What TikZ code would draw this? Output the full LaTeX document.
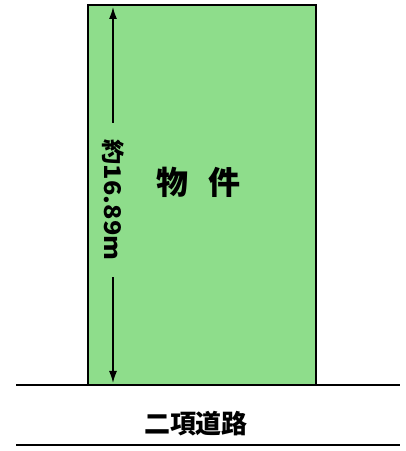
\documentclass[tikz,border=0pt]{standalone}
\usepackage{fontspec}
\newfontfamily\jpfont{Noto Sans CJK JP}
\usepackage{tikz}
\usetikzlibrary{positioning}
\usetikzlibrary{arrows.meta}
\definecolor{lotgreen}{RGB}{142,221,139}

\begin{document}
\begin{tikzpicture}[x=1pt,y=1pt,>={Latex[length=12pt,width=8pt]},font=\jpfont]
				\useasboundingbox (0,0) rectangle (406,451);
				\node[draw, fill=lotgreen, line width=2pt, minimum width=228pt, minimum height=380pt, inner sep=0pt] (lot) at (202,256) {};
				\node[font=\jpfont\bfseries\fontsize{32}{32}\selectfont] (name) at (199,269) {物\hspace{20pt}件};
				\node[rotate=-90, xscale=1.1, inner xsep=15pt, font=\jpfont\bfseries\fontsize{23}{23}\selectfont] (len) at (113,251) {約16.89m};
				\node[font=\jpfont\bfseries\fontsize{26}{26}\selectfont] (road) at (196,27) {二項道路};
				
				\coordinate (top) at (113,444);
				\coordinate (bot) at (113,68);
				\coordinate (roadA) at (16,66);
				\coordinate (roadB) at (400,66);
				\coordinate (roadC) at (16,6);
				\coordinate (roadD) at (400,6);
				
				\draw[line width=1.5pt, ->]  (len) -- (top);
				\draw[line width=1.5pt, ->]  (len) -- (bot);
				\draw[line width=2.5pt]  (roadA) -- (roadB);
				\draw[line width=2.5pt]  (roadC) -- (roadD);
			\end{tikzpicture}
\end{document}
